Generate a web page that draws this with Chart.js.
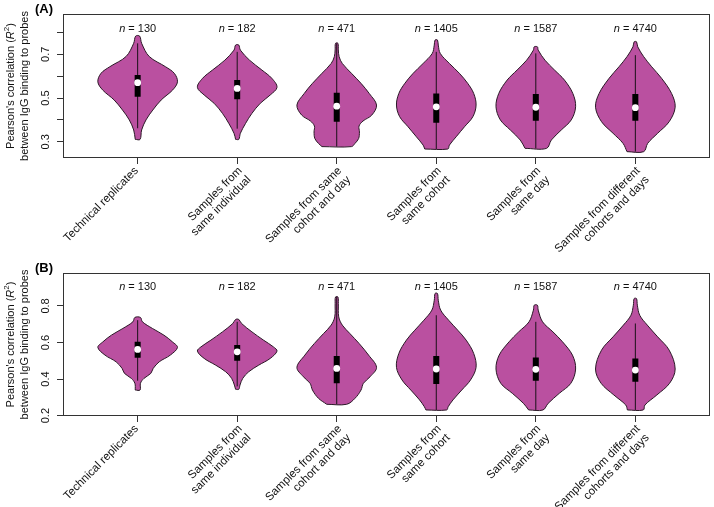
<!DOCTYPE html>
<html>
<head>
<meta charset="utf-8">
<script src="https://cdn.jsdelivr.net/npm/chart.js@4.4.1/dist/chart.umd.min.js"></script>
<style>
  html, body { margin: 0; padding: 0; background: #fff; }
  canvas { display: block; }
</style>
</head>
<body>
<canvas id="chartA" width="714" height="253"></canvas>
<canvas id="chartB" width="714" height="254"></canvas>
<script>
// categories shared by both panels
const categories = [
  ['Technical replicates'],
  ['Samples from', 'same individual'],
  ['Samples from same', 'cohort and day'],
  ['Samples from', 'same cohort'],
  ['Samples from', 'same day'],
  ['Samples from different', 'cohorts and days']
];
const sampleSizes = [130, 182, 471, 1405, 1587, 4740];

// panel A
const yTicksA  = [0.3, 0.4, 0.5, 0.6, 0.7, 0.8];
const yLabelsA = ['0.3', '', '0.5', '', '0.7', ''];
const q1A      = [0.506, 0.494, 0.392, 0.387, 0.396, 0.396];
const q3A      = [0.605, 0.582, 0.524, 0.521, 0.518, 0.518];
const medianA  = [0.570, 0.544, 0.463, 0.460, 0.458, 0.456];
const whiskLoA = [0.362, 0.360, 0.278, 0.267, 0.270, 0.255];
const whiskHiA = [0.750, 0.711, 0.750, 0.711, 0.704, 0.696];
// violin outlines: [value, relative half width], top to bottom
const violinA = [
  [[0.783,0.05],[0.75,0.1],[0.69,0.29],[0.643,0.7],[0.613,0.92],[0.574,1.0],[0.537,0.88],[0.491,0.59],[0.445,0.38],[0.40,0.21],[0.354,0.1],[0.311,0.06]],
  [[0.742,0.04],[0.719,0.08],[0.673,0.31],[0.628,0.62],[0.59,0.87],[0.549,1.0],[0.514,0.83],[0.476,0.58],[0.43,0.37],[0.384,0.21],[0.339,0.08],[0.311,0.04]],
  [[0.75,0.03],[0.72,0.04],[0.689,0.06],[0.658,0.14],[0.613,0.37],[0.567,0.61],[0.52,0.82],[0.468,1.0],[0.422,0.88],[0.395,0.66],[0.372,0.56],[0.345,0.57],[0.315,0.55],[0.293,0.46],[0.278,0.37]],
  [[0.765,0.03],[0.742,0.05],[0.704,0.1],[0.658,0.33],[0.613,0.58],[0.567,0.79],[0.521,0.94],[0.468,1.0],[0.415,0.92],[0.369,0.71],[0.323,0.5],[0.285,0.33],[0.267,0.29]],
  [[0.734,0.04],[0.719,0.06],[0.673,0.23],[0.628,0.47],[0.582,0.72],[0.521,0.93],[0.46,1.0],[0.40,0.89],[0.354,0.64],[0.308,0.39],[0.27,0.27]],
  [[0.757,0.03],[0.734,0.06],[0.689,0.21],[0.643,0.41],[0.59,0.66],[0.521,0.91],[0.458,1.0],[0.392,0.85],[0.339,0.56],[0.293,0.31],[0.255,0.21]]
];

// panel B
const yTicksB  = [0.2, 0.4, 0.6, 0.8];
const yLabelsB = ['0.2', '0.4', '0.6', '0.8'];
const q1B      = [0.516, 0.500, 0.377, 0.373, 0.391, 0.385];
const q3B      = [0.604, 0.586, 0.526, 0.526, 0.518, 0.513];
const medianB  = [0.562, 0.549, 0.458, 0.455, 0.453, 0.449];
const whiskLoB = [0.391, 0.360, 0.262, 0.231, 0.231, 0.231];
const whiskHiB = [0.722, 0.713, 0.849, 0.749, 0.713, 0.704];
const violinB = [
  [[0.737,0.07],[0.713,0.12],[0.677,0.37],[0.64,0.66],[0.604,0.87],[0.573,1.0],[0.531,0.82],[0.494,0.54],[0.458,0.39],[0.431,0.33],[0.404,0.16],[0.377,0.07],[0.34,0.06]],
  [[0.726,0.04],[0.704,0.11],[0.658,0.37],[0.613,0.66],[0.576,0.91],[0.553,1.0],[0.513,0.83],[0.476,0.54],[0.44,0.29],[0.404,0.14],[0.367,0.07],[0.344,0.04]],
  [[0.849,0.03],[0.813,0.04],[0.74,0.05],[0.695,0.14],[0.649,0.33],[0.595,0.56],[0.531,0.8],[0.464,1.0],[0.413,0.84],[0.377,0.67],[0.34,0.61],[0.295,0.46],[0.262,0.25]],
  [[0.868,0.03],[0.831,0.05],[0.777,0.11],[0.722,0.31],[0.667,0.54],[0.613,0.75],[0.54,0.94],[0.464,1.0],[0.395,0.86],[0.34,0.64],[0.286,0.42],[0.249,0.3],[0.231,0.26]],
  [[0.804,0.04],[0.777,0.06],[0.713,0.17],[0.658,0.43],[0.604,0.67],[0.531,0.92],[0.455,1.0],[0.377,0.88],[0.322,0.59],[0.267,0.31],[0.231,0.18]],
  [[0.84,0.03],[0.804,0.05],[0.749,0.11],[0.695,0.3],[0.631,0.56],[0.558,0.85],[0.455,1.0],[0.377,0.86],[0.313,0.54],[0.258,0.24],[0.231,0.2]]
];

const VIOLIN = '#BA50A0';
const FONT = "'Liberation Sans', Arial, Helvetica, sans-serif";
Chart.defaults.font.family = FONT;
Chart.defaults.font.size = 11;
Chart.defaults.color = '#111';

function violinPoints(i, prof) {
  const left = prof.slice().reverse().map(([v, w]) => ({ x: i - 0.4 * w, y: v }));
  const right = prof.map(([v, w]) => ({ x: i + 0.4 * w, y: v }));
  return left.concat(right, [left[0]]);
}

function buildDatasets(violins, q1, q3, med, lo, hi) {
  const sets = violins.map((prof, k) => ({
    data: violinPoints(k + 1, prof),
    showLine: true, tension: 0.35, fill: 'shape',
    backgroundColor: VIOLIN, borderColor: '#2a1826', borderWidth: 1,
    pointRadius: 0, order: 4
  }));
  const whisk = [], boxes = [], dots = [];
  med.forEach((m, k) => {
    whisk.push({ x: k + 1, y: lo[k] }, { x: k + 1, y: hi[k] }, { x: k + 1, y: null });
    boxes.push({ x: k + 1, y: q1[k] }, { x: k + 1, y: q3[k] }, { x: k + 1, y: null });
    dots.push({ x: k + 1, y: m });
  });
  sets.push({ data: whisk, showLine: true, borderColor: '#1a1018', borderWidth: 1, pointRadius: 0, order: 3 });
  sets.push({ data: boxes, showLine: true, borderColor: '#000', borderWidth: 6, borderCapStyle: 'butt', pointRadius: 0, order: 2 });
  sets.push({ data: dots, showLine: false, pointRadius: 3.4, pointBackgroundColor: '#fff', pointBorderWidth: 0, order: 1 });
  return sets;
}

const decor = {
  id: 'decor',
  afterDraw(chart, args, o) {
    const { ctx, chartArea: a, scales: { x, y } } = chart;
    ctx.save();
    ctx.strokeStyle = '#333';
    ctx.lineWidth = 1;
    ctx.strokeRect(a.left + 0.5, a.top + 0.5, a.width - 1, a.height - 1);

    ctx.fillStyle = '#111';
    ctx.font = '11px ' + FONT;
    ctx.textAlign = 'center';
    ctx.textBaseline = 'middle';
    o.yTicks.forEach((v, k) => {
      if (!o.yLabels[k]) return;
      ctx.save();
      ctx.translate(45.5, y.getPixelForValue(v));
      ctx.rotate(-Math.PI / 2);
      ctx.fillText(o.yLabels[k], 0, 0);
      ctx.restore();
    });

    // rotated category labels, right end at the tick
    ctx.font = '11.5px ' + FONT;
    categories.forEach((lines, k) => {
      const px = x.getPixelForValue(k + 1);
      const dx = lines.length > 1 ? 3 : -1;
      ctx.save();
      ctx.translate(px + dx, a.bottom + 11);
      ctx.rotate(-Math.PI / 4);
      ctx.textAlign = 'right';
      lines.forEach((s, j) => ctx.fillText(s, 0, j * 12.7));
      ctx.restore();
    });

    // n = ...
    sampleSizes.forEach((n, k) => {
      const px = x.getPixelForValue(k + 1);
      const rest = ' = ' + n;
      ctx.font = 'italic 11px ' + FONT;
      const w1 = ctx.measureText('n').width;
      ctx.font = '11px ' + FONT;
      const w2 = ctx.measureText(rest).width;
      const x0 = px - (w1 + w2) / 2;
      ctx.textAlign = 'left';
      ctx.font = 'italic 11px ' + FONT;
      ctx.fillText('n', x0, o.nY);
      ctx.font = '11px ' + FONT;
      ctx.fillText(rest, x0 + w1, o.nY);
    });

    // y axis title
    const cy = (a.top + a.bottom) / 2;
    const parts = [
      ["Pearson's correlation (", '11px ', 0],
      ['R', 'italic 11px ', 0],
      ['2', '8px ', -4],
      [')', '11px ', 0]
    ];
    let total = 0;
    parts.forEach(p => { ctx.font = p[1] + FONT; total += ctx.measureText(p[0]).width; });
    ctx.save();
    ctx.translate(10.5, cy);
    ctx.rotate(-Math.PI / 2);
    ctx.textAlign = 'left';
    let px = -total / 2;
    parts.forEach(p => {
      ctx.font = p[1] + FONT;
      ctx.fillText(p[0], px, p[2]);
      px += ctx.measureText(p[0]).width;
    });
    ctx.restore();
    ctx.save();
    ctx.translate(25, cy);
    ctx.rotate(-Math.PI / 2);
    ctx.textAlign = 'center';
    ctx.font = '11px ' + FONT;
    ctx.fillText('between IgG binding to probes', 0, 0);
    ctx.restore();

    // panel letter
    ctx.font = 'bold 13px ' + FONT;
    ctx.textAlign = 'left';
    ctx.fillStyle = '#000';
    ctx.fillText(o.letter, 35, o.letterY);
    ctx.restore();
  }
};

function makePanel(id, cfg) {
  return new Chart(document.getElementById(id), {
    type: 'scatter',
    data: { datasets: buildDatasets(cfg.violins, cfg.q1, cfg.q3, cfg.med, cfg.lo, cfg.hi) },
    plugins: [decor],
    options: {
      responsive: false,
      animation: false,
      events: [],
      layout: { padding: { top: cfg.top, right: 1, left: 0, bottom: 0 } },
      plugins: {
        legend: { display: false },
        tooltip: { enabled: false },
        decor: { yTicks: cfg.yTicks, yLabels: cfg.yLabels, nY: cfg.nY, letter: cfg.letter, letterY: cfg.letterY }
      },
      scales: {
        x: {
          type: 'linear', min: 0.25, max: 6.75,
          afterBuildTicks: s => { s.ticks = categories.map((c, i) => ({ value: i + 1 })); },
          afterFit: s => { s.height = cfg.xHeight; },
          ticks: { display: false },
          grid: { drawOnChartArea: false, drawTicks: true, tickLength: 6, color: '#333' },
          border: { display: false }
        },
        y: {
          type: 'linear', min: cfg.yMin, max: cfg.yMax,
          afterBuildTicks: s => { s.ticks = cfg.yTicks.map(v => ({ value: v })); },
          afterFit: s => { s.width = 63; },
          ticks: { display: false },
          grid: { drawOnChartArea: false, drawTicks: true, tickLength: 6, color: '#333' },
          border: { display: false }
        }
      }
    }
  });
}

makePanel('chartA', {
  violins: violinA, q1: q1A, q3: q3A, med: medianA, lo: whiskLoA, hi: whiskHiA,
  yTicks: yTicksA, yLabels: yLabelsA, yMin: 0.226, yMax: 0.884,
  top: 14, xHeight: 95, nY: 28.5, letter: '(A)', letterY: 9
});
makePanel('chartB', {
  violins: violinB, q1: q1B, q3: q3B, med: medianB, lo: whiskLoB, hi: whiskHiB,
  yTicks: yTicksB, yLabels: yLabelsB, yMin: 0.198, yMax: 0.98,
  top: 20, xHeight: 91, nY: 33.5, letter: '(B)', letterY: 15
});
</script>
</body>
</html>
